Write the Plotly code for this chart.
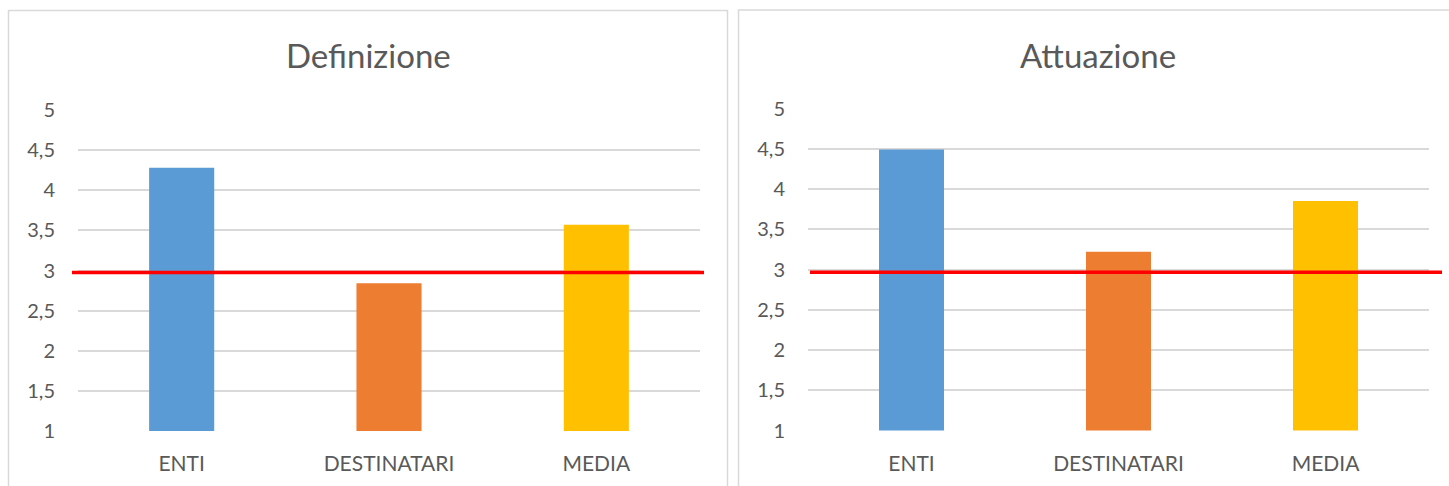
import plotly.graph_objects as go
from plotly.subplots import make_subplots

categories = ["ENTI", "DESTINATARI", "MEDIA"]
definizione_values = [4.28, 2.84, 3.57]
attuazione_values = [4.49, 3.22, 3.85]
bar_colors = ["#5B9BD5", "#ED7D31", "#FFC000"]
threshold_def = 2.975
threshold_att = 2.965
panel_titles = ["Definizione", "Attuazione"]
y_ticks = [1, 1.5, 2, 2.5, 3, 3.5, 4, 4.5, 5]

W, H = 1449, 486
TXT = "#595959"
FONT = "Lato"

fig = make_subplots(rows=1, cols=2)

fig.add_trace(go.Bar(x=categories, y=definizione_values, marker=dict(color=bar_colors, line=dict(width=0)),
                     showlegend=False), row=1, col=1)
fig.add_trace(go.Bar(x=categories, y=attuazione_values, marker=dict(color=bar_colors, line=dict(width=0)),
                     showlegend=False), row=1, col=2)

def px_x(a, b):
    return [a / W, b / W]

def px_y(top, bottom):
    return [1 - bottom / H, 1 - top / H]

fig.update_layout(
    width=W, height=H,
    autosize=False,
    margin=dict(l=0, r=0, t=0, b=0, pad=0),
    paper_bgcolor="white", plot_bgcolor="white",
    separators=",.",
    bargap=0.686,
    showlegend=False,
    font=dict(family=FONT, color=TXT),
    xaxis=dict(domain=px_x(78, 700)),
    xaxis2=dict(domain=px_x(808, 1429)),
    yaxis=dict(domain=px_y(110, 431)),
    yaxis2=dict(domain=px_y(108.5, 430.5)),
)

for ax in ["xaxis", "xaxis2"]:
    fig.layout[ax].update(showgrid=False, zeroline=False, showline=False, ticks="", automargin=False,
                          tickfont=dict(size=21, color=TXT, family=FONT), ticklabelstandoff=18)
for ax in ["yaxis", "yaxis2"]:
    fig.layout[ax].update(range=[1, 5], tickvals=y_ticks, showgrid=True, gridcolor="#D9D9D9",
                          gridwidth=1.5, zeroline=False, showline=False, ticks="", automargin=False,
                          tickfont=dict(size=20, color=TXT, family=FONT), ticklabelstandoff=22)

# panel borders
fig.add_shape(type="rect", xref="paper", yref="paper", x0=8.5 / W, x1=727.5 / W, y0=-0.05, y1=1 - 10.5 / H,
              line=dict(color="#D9D9D9", width=1.5), fillcolor="rgba(0,0,0,0)", layer="below")
fig.add_shape(type="rect", xref="paper", yref="paper", x0=738.5 / W, x1=1.02, y0=-0.05, y1=1 - 10 / H,
              line=dict(color="#D9D9D9", width=1.5), fillcolor="rgba(0,0,0,0)", layer="below")

# threshold lines
fig.add_shape(type="line", xref="x domain", yref="y", x0=-6 / 622, x1=626 / 622,
              y0=threshold_def, y1=threshold_def, line=dict(color="#FF0000", width=3.5))
fig.add_shape(type="line", xref="x2 domain", yref="y2", x0=2 / 621, x1=634 / 621,
              y0=threshold_att, y1=threshold_att, line=dict(color="#FF0000", width=3.5))

# titles
fig.add_annotation(text=panel_titles[0], xref="paper", yref="paper", x=368 / W, y=1 - 55 / H,
                   showarrow=False, xanchor="center", yanchor="middle",
                   font=dict(size=33, color=TXT, family=FONT))
fig.add_annotation(text=panel_titles[1], xref="paper", yref="paper", x=1098 / W, y=1 - 55 / H,
                   showarrow=False, xanchor="center", yanchor="middle",
                   font=dict(size=33, color=TXT, family=FONT))

fig.write_html("out.html")
